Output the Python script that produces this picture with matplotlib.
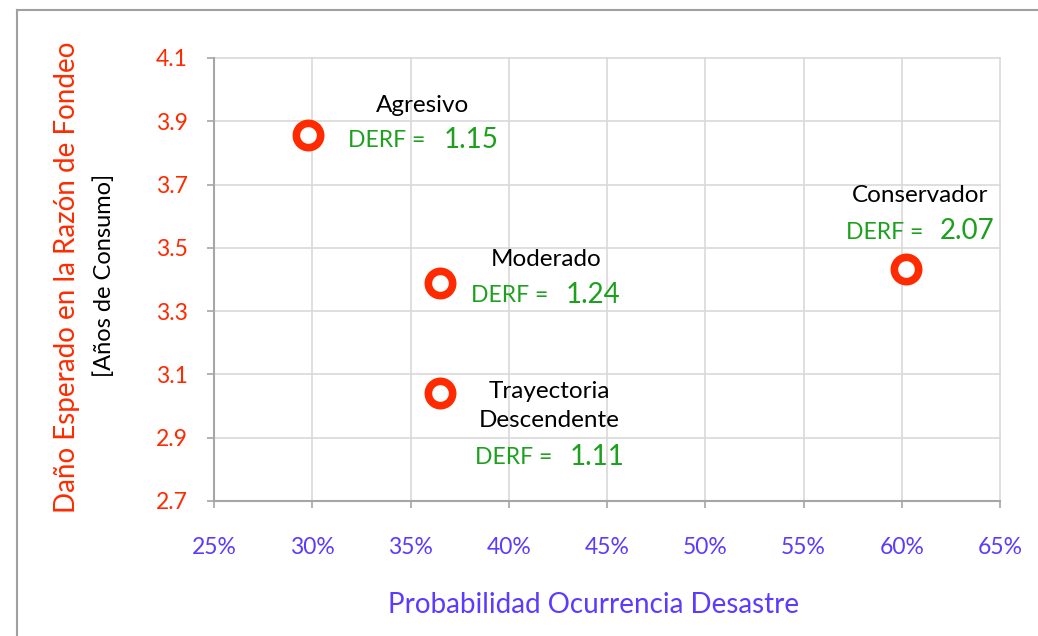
import matplotlib
matplotlib.use("Agg")
import matplotlib.pyplot as plt
from matplotlib.ticker import FuncFormatter, FixedLocator, MultipleLocator
from matplotlib.lines import Line2D

plt.rcParams['font.family'] = ['Lato', 'DejaVu Sans']

# Data
names = ["Agresivo", "Moderado", "Conservador", "Trayectoria\nDescendente"]
prob = [0.298, 0.365, 0.602, 0.365]
damage = [3.857, 3.389, 3.433, 3.042]
derf = [1.15, 1.24, 2.07, 1.11]
yticks = [2.7, 2.9, 3.1, 3.3, 3.5, 3.7, 3.9, 4.1]

RED = "#FF2A00"
BLUE = "#5B3BFF"
GREEN = "#1DA01D"

fig = plt.figure(figsize=(10.38, 6.36), dpi=100)
ax = fig.add_axes([214/1038, 1-501/636, (1000-214)/1038, (501-58)/636])

ax.plot(prob, damage, linestyle="none", marker="o", markersize=17.5,
        markerfacecolor="white", markeredgecolor=RED, markeredgewidth=5.5,
        zorder=5, clip_on=False)

ax.set_xlim(0.25, 0.65)
ax.set_ylim(yticks[0], yticks[-1])
ax.xaxis.set_major_locator(MultipleLocator(0.05))
ax.yaxis.set_major_locator(FixedLocator(yticks))
ax.xaxis.set_major_formatter(FuncFormatter(lambda v, p: f"{v*100:.0f}%"))
ax.yaxis.set_major_formatter(FuncFormatter(lambda v, p: f"{v:.1f}"))

ax.grid(True, color="#D9D9D9", linewidth=1.2)
for g in ax.get_xgridlines() + ax.get_ygridlines():
    g.set_clip_on(False)
ax.set_axisbelow(True)
for s in ["top", "right"]:
    ax.spines[s].set_visible(False)
for s in ["left", "bottom"]:
    ax.spines[s].set_color("#A6A6A6")
    ax.spines[s].set_linewidth(1.5)

ax.tick_params(axis="y", direction="out", length=5, width=1.2, color="#A6A6A6",
               labelcolor=RED, labelsize=16.5, pad=14)
ax.tick_params(axis="x", direction="out", length=5, width=1.2, color="#A6A6A6",
               labelcolor=BLUE, labelsize=16.5, pad=21)

fig.text(594/1038, 1-605/636, "Probabilidad Ocurrencia Desastre", color=BLUE,
         fontsize=20, ha="center", va="center")
fig.text(67/1038, 1-277/636, "Daño Esperado en la Razón de Fondeo", rotation=90,
         color=RED, fontsize=20, ha="center", va="center")
fig.text(104/1038, 1-275/636, "[Años de Consumo]", rotation=90, color="black",
         fontsize=17, ha="center", va="center")

# label offsets in pixels (name center dx, name dy, derf left dx, value left dx, derf dy)
offsets = [
    (114, -29, 40, 135, 6),
    (106, -23, 31, 126, 13),
    (14, -74, -60, 34, -37),
    (109, 13, 35, 130, 65),
]
px = 72/100
for n, x, y, d, (nx, ny, dx, vx, dy) in zip(names, prob, damage, derf, offsets):
    ax.annotate(n, (x, y), xytext=(nx*px, -ny*px), textcoords="offset points",
                ha="center", va="center", fontsize=17.5, color="black",
                linespacing=1.45)
    ax.annotate("DERF =", (x, y), xytext=(dx*px, -dy*px), textcoords="offset points",
                ha="left", va="center", fontsize=16.5, color=GREEN)
    ax.annotate(f"{d:.2f}", (x, y), xytext=(vx*px, -(dy-1)*px), textcoords="offset points",
                ha="left", va="center", fontsize=20, color=GREEN)

# outer frame
fig.add_artist(Line2D([17/1038, 1], [1-10/636, 1-10/636], color="#A0A0A0", linewidth=1.5,
                      transform=fig.transFigure))
fig.add_artist(Line2D([17/1038, 17/1038], [0, 1-10/636], color="#A0A0A0", linewidth=1.5,
                      transform=fig.transFigure))

fig.savefig("out.png", dpi=100)
